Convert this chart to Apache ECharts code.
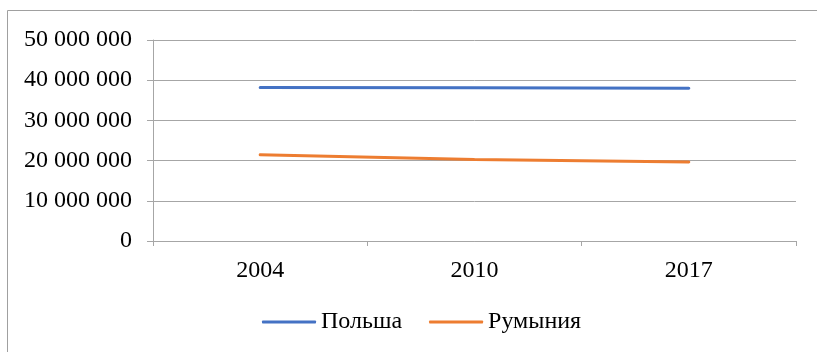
<!DOCTYPE html>
<html>
<head>
<meta charset="utf-8">
<script src="https://cdn.jsdelivr.net/npm/echarts@6/dist/echarts.min.js"></script>
<style>
  html, body { margin: 0; padding: 0; background: #fff; }
  #chart { width: 817px; height: 352px; }
</style>
</head>
<body>
<div id="chart"></div>
<script>
// Population, persons
const years = ['2004', '2010', '2017'];
const poland = [38190000, 38100000, 37970000];
const romania = [21450000, 20250000, 19640000];
const seriesNames = ['Польша', 'Румыния'];

const FONT = '"Liberation Serif", "Times New Roman", serif';
const GRID_COLOR = '#a6a6a6';

function spaced(v) {
  return String(v).replace(/\B(?=(\d{3})+(?!\d))/g, ' ');
}

const chart = echarts.init(document.getElementById('chart'), null, { renderer: 'canvas' });
chart.setOption({
  animation: false,
  backgroundColor: '#fff',
  textStyle: { fontFamily: FONT, color: '#000' },
  graphic: [{
    type: 'rect',
    shape: { x: 7.5, y: 10.5, width: 900, height: 400 },
    style: { fill: null, stroke: '#a0a0a0', lineWidth: 1 },
    silent: true
  }],
  grid: { left: 153, right: 21, top: 40, bottom: 111, containLabel: false },
  legend: {
    bottom: 13,
    left: 257,
    itemWidth: 54,
    itemHeight: 3,
    itemGap: 27,
    icon: 'roundRect',
    textStyle: { fontFamily: FONT, fontSize: 24, color: '#000' },
    data: seriesNames
  },
  xAxis: {
    type: 'category',
    data: years,
    boundaryGap: true,
    axisLine: { lineStyle: { color: GRID_COLOR, width: 1 } },
    axisTick: { show: true, length: 5, lineStyle: { color: GRID_COLOR } },
    axisLabel: { fontFamily: FONT, fontSize: 24, color: '#000', margin: 18 }
  },
  yAxis: {
    type: 'value',
    min: 0,
    max: 50000000,
    interval: 10000000,
    axisLine: { show: true, lineStyle: { color: GRID_COLOR, width: 1 } },
    axisTick: { show: true, length: 6, lineStyle: { color: GRID_COLOR } },
    splitLine: { show: true, lineStyle: { color: GRID_COLOR, width: 1 } },
    axisLabel: { fontFamily: FONT, fontSize: 24, color: '#000', margin: 21, formatter: spaced }
  },
  series: [
    {
      name: seriesNames[0],
      type: 'line',
      data: poland,
      symbol: 'none',
      lineStyle: { color: '#4472C4', width: 3, cap: 'round' },
      itemStyle: { color: '#4472C4' }
    },
    {
      name: seriesNames[1],
      type: 'line',
      data: romania,
      symbol: 'none',
      lineStyle: { color: '#ED7D31', width: 3, cap: 'round' },
      itemStyle: { color: '#ED7D31' }
    }
  ]
});
</script>
</body>
</html>
